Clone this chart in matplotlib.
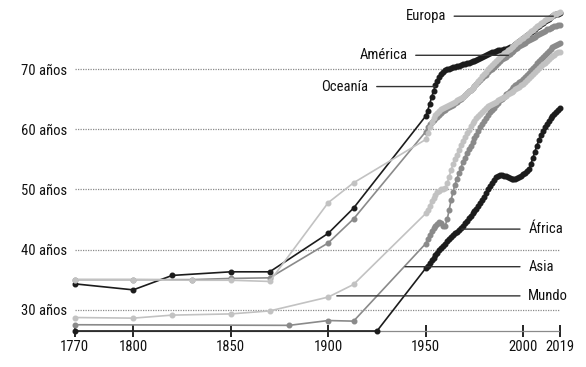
"""
Esperanza de vida por regiones, 1770-2019.
Puntos dispersos antes de 1950, anuales desde 1950.
"""
import matplotlib.pyplot as plt
from matplotlib import font_manager as fm


def pick_font():
    # the reference uses a narrow grotesque; take the closest one installed
    entries = fm.fontManager.ttflist
    for want in ['Liberation Sans Narrow', 'Roboto Condensed', 'Arial Narrow',
                 'Noto Sans Condensed', 'Open Sans Condensed']:
        for e in entries:
            if e.name == want and e.style == 'normal':
                return e.name, e.stretch, 10.5
    for pref in ['Roboto', 'Noto Sans', 'Open Sans', 'DejaVu Sans']:
        for e in entries:
            if (e.name == pref and e.style == 'normal'
                    and 'condensed' in str(e.stretch)):
                return e.name, e.stretch, 10.0
    return 'Liberation Sans', 'normal', 9.6


FONT_NAME, FONT_STRETCH, FS = pick_font()
plt.rcParams['font.family'] = [FONT_NAME, 'DejaVu Sans']
plt.rcParams['font.stretch'] = FONT_STRETCH

ANNUAL = list(range(1950, 2020))

# --- early, sparse estimates ---------------------------------------
oceania_early_years = [1770, 1800, 1820, 1850, 1870, 1900, 1913]
oceania_early = [34.3, 33.3, 35.7, 36.3, 36.3, 42.7, 46.9]

america_early_years = [1770, 1800, 1830, 1850, 1870, 1900, 1913]
america_early = [35.0, 35.0, 35.0, 35.2, 35.3, 41.1, 45.1]

europa_early_years = [1770, 1800, 1830, 1850, 1870, 1900, 1913]
europa_early = [35.0, 35.0, 34.9, 34.9, 34.7, 47.8, 51.1]

africa_early_years = [1770, 1925]
africa_early = [26.46, 26.46]

asia_early_years = [1770, 1880, 1900, 1913]
asia_early = [27.5, 27.4, 28.2, 28.1]

mundo_early_years = [1770, 1800, 1820, 1850, 1870, 1900, 1913]
mundo_early = [28.7, 28.6, 29.1, 29.3, 29.8, 32.1, 34.2]

# --- annual values 1950-2019 ---------------------------------------
oceania_annual = [
    62.2, 63.1, 64.2, 65.3, 66.4, 67.3, 68.1, 68.7, 69.2, 69.5,
    69.8, 70.0, 70.1, 70.2, 70.3, 70.4, 70.5, 70.6, 70.7, 70.8,
    70.9, 71.0, 71.1, 71.2, 71.3, 71.4, 71.5, 71.7, 71.8, 72.0,
    72.1, 72.3, 72.5, 72.6, 72.8, 72.9, 73.0, 73.1, 73.1, 73.2,
    73.3, 73.4, 73.5, 73.6, 73.7, 73.9, 74.1, 74.4, 74.6, 74.9,
    75.1, 75.4, 75.6, 75.9, 76.2, 76.4, 76.7, 77.0, 77.2, 77.5,
    77.7, 78.0, 78.2, 78.4, 78.6, 78.8, 79.0, 79.1, 79.2, 79.4,
]
america_annual = [
    59.6, 60.3, 60.8, 61.2, 61.5, 61.8, 62.1, 62.4, 62.7, 63.0,
    63.2, 63.5, 63.7, 63.9, 64.1, 64.4, 64.6, 64.9, 65.1, 65.4,
    65.7, 66.0, 66.3, 66.6, 66.9, 67.2, 67.5, 67.9, 68.2, 68.5,
    68.8, 69.1, 69.5, 69.8, 70.1, 70.4, 70.7, 71.0, 71.3, 71.6,
    71.8, 72.0, 72.3, 72.5, 72.8, 73.0, 73.3, 73.5, 73.8, 74.0,
    74.2, 74.4, 74.6, 74.8, 75.0, 75.2, 75.4, 75.6, 75.8, 76.0,
    76.2, 76.4, 76.6, 76.7, 76.9, 77.0, 77.1, 77.2, 77.3, 77.4,
]
europa_annual = [
    58.3, 59.4, 60.4, 61.2, 61.8, 62.3, 62.7, 63.0, 63.3, 63.5,
    63.7, 63.9, 64.0, 64.2, 64.4, 64.6, 64.8, 65.0, 65.2, 65.4,
    65.7, 66.0, 66.3, 66.6, 66.9, 67.2, 67.6, 68.0, 68.4, 68.8,
    69.2, 69.6, 70.0, 70.3, 70.7, 71.0, 71.3, 71.7, 72.0, 72.3,
    72.6, 72.9, 73.1, 73.4, 73.6, 73.9, 74.2, 74.5, 74.7, 75.0,
    75.2, 75.5, 75.7, 76.0, 76.3, 76.5, 76.8, 77.1, 77.3, 77.6,
    77.8, 78.1, 78.3, 78.5, 78.7, 78.9, 79.1, 79.2, 79.3, 79.5,
]
africa_annual = [
    36.9, 37.3, 37.8, 38.2, 38.6, 39.1, 39.5, 39.9, 40.3, 40.6,
    41.0, 41.4, 41.8, 42.1, 42.4, 42.7, 43.0, 43.3, 43.6, 44.0,
    44.4, 44.8, 45.2, 45.6, 46.0, 46.4, 46.8, 47.3, 47.8, 48.3,
    48.8, 49.4, 50.0, 50.6, 51.1, 51.6, 52.0, 52.3, 52.4, 52.4,
    52.3, 52.2, 52.0, 51.9, 51.8, 51.8, 51.8, 51.9, 52.0, 52.2,
    52.5, 52.8, 53.1, 53.4, 54.3, 55.3, 56.3, 57.3, 58.2, 59.0,
    59.7, 60.3, 60.9, 61.4, 61.8, 62.2, 62.6, 62.9, 63.2, 63.5,
]
asia_annual = [
    41.0, 41.8, 42.5, 43.1, 43.6, 44.0, 44.2, 44.5, 44.4, 44.0,
    44.0, 45.0, 46.6, 48.2, 49.6, 50.8, 51.8, 52.7, 53.6, 54.5,
    55.3, 56.0, 56.7, 57.3, 57.9, 58.5, 59.1, 59.7, 60.3, 60.9,
    61.4, 61.9, 62.4, 62.8, 63.2, 63.6, 64.0, 64.4, 64.8, 65.1,
    65.4, 65.8, 66.1, 66.4, 66.7, 67.0, 67.3, 67.6, 67.9, 68.1,
    68.4, 68.7, 69.0, 69.4, 69.8, 70.2, 70.6, 71.0, 71.3, 71.7,
    72.0, 72.4, 72.7, 73.0, 73.3, 73.6, 73.8, 74.0, 74.2, 74.4,
]
mundo_annual = [
    46.0, 46.6, 47.3, 48.0, 48.6, 49.1, 49.5, 49.8, 50.0, 50.0,
    50.2, 51.0, 52.1, 53.2, 54.2, 55.0, 55.8, 56.6, 57.4, 58.1,
    58.7, 59.3, 59.9, 60.5, 61.0, 61.4, 61.8, 62.2, 62.6, 62.9,
    63.2, 63.5, 63.8, 64.0, 64.2, 64.4, 64.6, 64.8, 65.0, 65.2,
    65.4, 65.6, 65.8, 66.0, 66.2, 66.4, 66.7, 66.9, 67.1, 67.3,
    67.6, 67.9, 68.2, 68.5, 68.8, 69.2, 69.5, 69.8, 70.2, 70.5,
    70.8, 71.1, 71.4, 71.7, 72.0, 72.2, 72.4, 72.6, 72.8, 72.9,
]

X_TICKS = [1770, 1800, 1850, 1900, 1950, 2000, 2019]
Y_TICKS = [30, 40, 50, 60, 70]

BLACK = '#1c1c1c'
MID = '#8a8a8a'
LIGHT = '#c2c2c2'

# name, early years, early vals, annual vals, colour
SERIES = [
    ('Oceanía', oceania_early_years, oceania_early, oceania_annual, BLACK),
    ('África', africa_early_years, africa_early, africa_annual, BLACK),
    ('América', america_early_years, america_early, america_annual, MID),
    ('Asia', asia_early_years, asia_early, asia_annual, MID),
    ('Europa', europa_early_years, europa_early, europa_annual, LIGHT),
    ('Mundo', mundo_early_years, mundo_early, mundo_annual, LIGHT),
]

# label text position and leader end (year, value)
LABELS = {
    'Europa': dict(text_x=1960.3, end_x=2015.4, y=78.8, side='left'),
    'América': dict(text_x=1940.6, end_x=1992.4, y=72.3, side='left'),
    'Oceanía': dict(text_x=1920.6, end_x=1954.8, y=67.1, side='left'),
    'África': dict(text_x=2002.6, end_x=1968.5, y=43.4, side='right'),
    'Asia': dict(text_x=2002.6, end_x=1939.4, y=37.15, side='right'),
    'Mundo': dict(text_x=2002.6, end_x=1904.4, y=32.3, side='right'),
}

W, H = 586, 367
fig = plt.figure(figsize=(W / 100, H / 100), dpi=100)
ax = fig.add_axes([74.7 / W, (H - 331) / H,
                   (560.3 - 74.7) / W, (331 - 5) / H])
ax.set_xlim(1770, 2019)
ax.set_ylim(26.46, 80.66)

for name, ey, ev, av, col in SERIES:
    ax.plot(ey + ANNUAL, ev + av, color=col, lw=1.2,
            marker='o', ms=3.3, mec=col, mfc=col,
            clip_on=False, zorder=3)

for name, lab in LABELS.items():
    ha = 'right' if lab['side'] == 'left' else 'left'
    ax.annotate(name, xy=(lab['end_x'], lab['y']),
                xytext=(lab['text_x'], lab['y']),
                ha=ha, va='center', fontsize=FS, color='#111111',
                annotation_clip=False,
                arrowprops=dict(arrowstyle='-', color='#333333', lw=1.0,
                                shrinkA=4, shrinkB=0))

for s in ('top', 'left', 'right'):
    ax.spines[s].set_visible(False)
ax.spines['bottom'].set_linestyle((0, (1, 1)))
ax.spines['bottom'].set_color('#8a8a8a')
ax.spines['bottom'].set_linewidth(0.9)

ax.set_yticks(Y_TICKS)
ax.set_yticklabels([f'{v} años' for v in Y_TICKS], fontsize=FS)
ax.tick_params(axis='y', length=0, pad=5.3, colors='#111111')
ax.yaxis.grid(True, linestyle=(0, (1, 1)), color='#8a8a8a', lw=0.9)

ax.set_xticks(X_TICKS)
ax.set_xticklabels([str(x) for x in X_TICKS], fontsize=FS)
ax.tick_params(axis='x', direction='inout', length=8, width=1.2,
               color='black', pad=2.5, labelcolor='#111111')
ax.set_axisbelow(True)

fig.savefig('out.png', dpi=100)
